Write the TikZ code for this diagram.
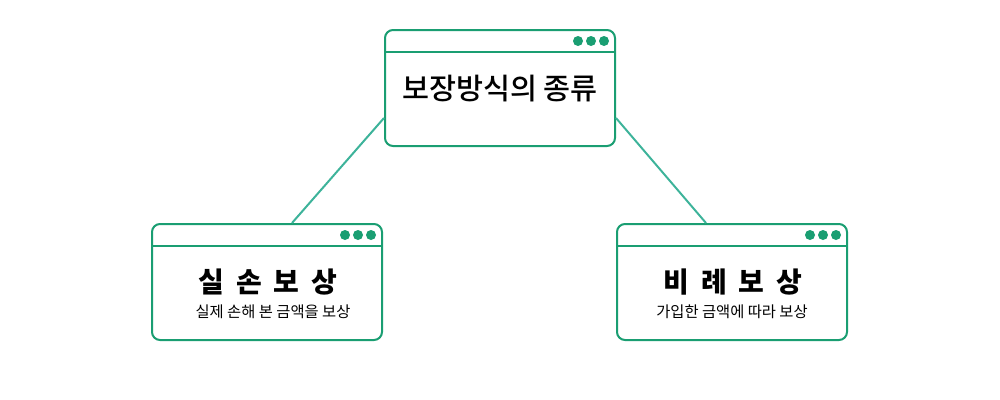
\documentclass[tikz,border=0pt]{standalone}
\usepackage{fontspec}
\setmainfont{Noto Sans CJK KR}
\newfontfamily\medfont{Noto Sans CJK KR Medium}
\usepackage{xcolor}
\usepackage{tikz}
\usetikzlibrary{positioning}
\definecolor{cardgreen}{HTML}{1A9E72}
\definecolor{linkgreen}{HTML}{3DB39A}

\begin{document}
\begin{tikzpicture}[x=0.75pt, y=-0.75pt, every node/.append style={inner sep=0pt},
    card/.style={draw=cardgreen, line width=1.5pt, rounded corners=6pt, fill=white, minimum width=172.5pt, minimum height=87pt},
    link/.style={draw=linkgreen, line width=1.5pt},
    headtitle/.style={font=\fontsize{22}{24}\selectfont\medfont},
    spaced/.style={font={\fontsize{21}{24}\selectfont\bfseries\spaceskip 0.42em\relax}},
    sub/.style={font=\fontsize{11.5}{13}\selectfont}]
        \useasboundingbox (0,0) rectangle (1000,400);

        \node[card] (top) at (500,88) {};
        \node[card] (left) at (267,282) {};
        \node[card] (right) at (732,282) {};

        \draw[link] ([yshift=-22.5pt]top.west) -- ([xshift=18.75pt]left.north);
        \draw[link] ([yshift=-22.5pt]top.east) -- ([xshift=-19.5pt]right.north);

        \foreach \n in {top,left,right} {
            \draw[cardgreen, line width=1.5pt] ([yshift=-17.25pt]\n.north west) -- ([yshift=-17.25pt]\n.north east);
            \foreach \dx in {-28.5pt,-18.75pt,-9pt}
                \fill[cardgreen] ([xshift=\dx, yshift=-9pt]\n.north east) circle (3.75pt);
        }

        \node[headtitle] (toptitle) at (500,89) {보장방식의 종류};
        \node[spaced] (lefttitle) at (268,282) {실 손 보 상};
        \node[sub] (leftsub) at (273,312) {실제 손해 본 금액을 보상};
        \node[spaced] (righttitle) at (733,282) {비 례 보 상};
        \node[sub] (rightsub) at (732,312) {가입한 금액에 따라 보상};
    \end{tikzpicture}
\end{document}
